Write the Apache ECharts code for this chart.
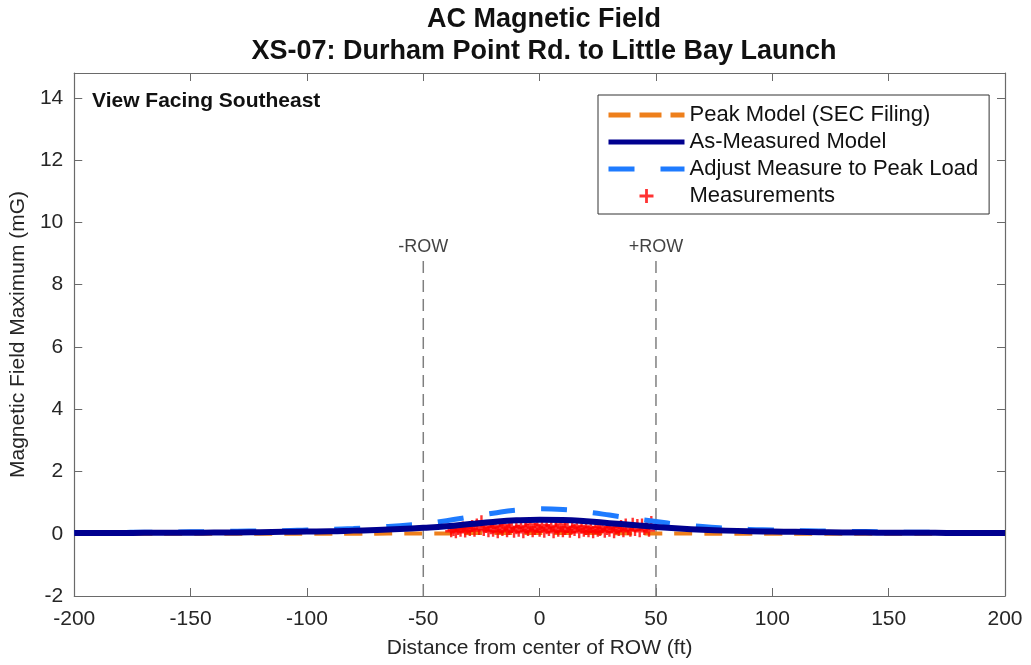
<!DOCTYPE html>
<html><head><meta charset="utf-8">
<script src="https://cdn.jsdelivr.net/npm/echarts@6/dist/echarts.min.js"></script>
<style>html,body{margin:0;padding:0;background:#fff}#c{width:1031px;height:665px}</style>
</head><body><div id="c"></div>
<script>
const titleLines = ['AC Magnetic Field', 'XS-07: Durham Point Rd. to Little Bay Launch'];
const xTicksMin = -200, xTicksMax = 200, xStep = 50;
const yMin = -2, yMax = 14.8, yStep = 2;
const modelX = [-200,-190,-180,-170,-160,-150,-140,-130,-120,-110,-100,-90,-80,-70,-60,-50,-40,-30,-20,-10,0,10,20,30,40,50,60,70,80,90,100,110,120,130,140,150,160,170,180,190,200];
const peakModel = [0.0,0.0,0.0,0.0,0.0,0.0,0.0,0.0,0.0,0.0,0.0,0.0,0.0,0.0,0.01,0.01,0.01,0.02,0.02,0.02,0.02,0.02,0.02,0.02,0.01,0.01,0.01,0.0,0.0,0.0,0.0,0.0,0.0,0.0,0.0,0.0,0.0,0.0,0.0,0.0,0.0];
const asMeasured = [0.02,0.02,0.02,0.03,0.03,0.03,0.04,0.04,0.05,0.06,0.07,0.08,0.10,0.12,0.15,0.19,0.24,0.31,0.38,0.43,0.45,0.44,0.40,0.34,0.28,0.22,0.17,0.13,0.10,0.08,0.07,0.06,0.05,0.04,0.04,0.03,0.03,0.03,0.02,0.02,0.02];
const adjusted = [0.03,0.03,0.04,0.05,0.05,0.06,0.07,0.08,0.09,0.10,0.12,0.14,0.17,0.21,0.26,0.32,0.42,0.54,0.66,0.76,0.80,0.78,0.70,0.60,0.49,0.39,0.30,0.23,0.18,0.14,0.12,0.10,0.09,0.08,0.07,0.06,0.05,0.05,0.04,0.03,0.03];
const measX = [-38,-37,-36,-35,-34,-33,-32,-31,-30,-29,-28,-27,-26,-25,-24,-23,-22,-21,-20,-19,-18,-17,-16,-15,-14,-13,-12,-11,-10,-9,-8,-7,-6,-5,-4,-3,-2,-1,0,1,2,3,4,5,6,7,8,9,10,11,12,13,14,15,16,17,18,19,20,21,22,23,24,25,26,27,28,29,30,31,32,33,34,35,36,37,38,39,40,41,42,43,44,45,46,47,48];
const measY = [0.08,0.12,0.05,0.15,0.10,0.20,0.07,0.18,0.12,0.25,0.10,0.30,0.15,0.40,0.12,0.22,0.08,0.18,0.10,0.25,0.05,0.20,0.12,0.28,0.08,0.15,0.22,0.06,0.18,0.10,0.25,0.05,0.20,0.12,0.30,0.08,0.15,0.22,0.10,0.28,0.06,0.18,0.12,0.25,0.05,0.20,0.10,0.30,0.08,0.15,0.22,0.06,0.18,0.12,0.25,0.05,0.20,0.10,0.15,0.08,0.22,0.05,0.18,0.10,0.12,0.20,0.06,0.15,0.10,0.22,0.05,0.18,0.12,0.25,0.08,0.30,0.15,0.10,0.32,0.12,0.28,0.08,0.30,0.15,0.20,0.10,0.38];
const rowX = [-50, 50];
const rowLabels = ['-ROW', '+ROW'];
const rowTop = 8.9, rowLabelY = 9.2;
const names = ['Peak Model (SEC Filing)', 'As-Measured Model', 'Adjust Measure to Peak Load', 'Measurements'];

const zip = (xs, ys) => xs.map((x, i) => [x, ys[i]]);
const FONT = 'Liberation Sans';
const axisCol = '#6a6a6a';
const txtCol = '#262626';
const plusPath = 'path://M4,0h2v4h4v2h-4v4h-2v-4h-4v-2h4z';
const cOrange = '#EE7F1B', cNavy = '#00008F', cBlue = '#1E7BFF', cRed = '#FF0000';

const chart = echarts.init(document.getElementById('c'));
const rowSeries = rowX.map((x) => ({
  type: 'line', silent: true, symbol: 'none', z: 1,
  data: [[x, yMin], [x, rowTop]],
  lineStyle: { color: '#7f7f7f', width: 1.5, type: [12, 7] }
}));
const rowLabelSeries = {
  type: 'scatter', silent: true, symbolSize: 0, z: 10,
  data: rowX.map((x, i) => ({ value: [x, rowLabelY], label: { formatter: rowLabels[i] } })),
  label: { show: true, position: 'inside', color: '#111', fontFamily: FONT, fontSize: 18 }
};
const axisCommon = {
  axisLine: { show: true, onZero: false, lineStyle: { color: axisCol, width: 1.2 } },
  axisTick: { show: true, inside: true, length: 8, lineStyle: { color: axisCol } },
  splitLine: { show: false }
};
const hidden = { opacity: 0 };
chart.setOption({
  animation: false,
  textStyle: { fontFamily: FONT },
  title: [
    { text: titleLines[0], left: 539, top: 1, textAlign: 'center', textStyle: { fontFamily: FONT, fontWeight: 'bold', fontSize: 27, color: '#111' } },
    { text: titleLines[1], left: 539, top: 33, textAlign: 'center', textStyle: { fontFamily: FONT, fontWeight: 'bold', fontSize: 27, color: '#111' } },
    { text: 'View Facing Southeast', left: 87, top: 86, textStyle: { fontFamily: FONT, fontWeight: 'bold', fontSize: 21, color: '#111' } }
  ],
  grid: { left: 74, right: 26, top: 73, bottom: 69 },
  legend: {
    data: [
      { name: names[0], itemStyle: hidden, lineStyle: { width: 5, type: [22, 9] } },
      { name: names[1], itemStyle: hidden, lineStyle: { width: 5 } },
      { name: names[2], itemStyle: hidden, lineStyle: { width: 5, type: [26, 26] } },
      { name: names[3] }
    ],
    orient: 'vertical', left: 598, top: 95,
    backgroundColor: '#fff', borderColor: '#333', borderWidth: 1,
    padding: [9, 11, 7, 8], itemWidth: 76, itemHeight: 14, itemGap: 5,
    textStyle: { fontFamily: FONT, fontSize: 22, color: '#111' }
  },
  xAxis: [
    Object.assign({ type: 'value', min: xTicksMin, max: xTicksMax, interval: xStep,
      name: 'Distance from center of ROW (ft)', nameLocation: 'middle', nameGap: 42,
      nameTextStyle: { fontFamily: FONT, fontSize: 21, color: txtCol },
      axisLabel: { fontFamily: FONT, fontSize: 21, color: txtCol, margin: 13 } }, axisCommon),
    Object.assign({ type: 'value', min: xTicksMin, max: xTicksMax, interval: xStep, position: 'top',
      axisLabel: { show: false } }, axisCommon)
  ],
  yAxis: [
    Object.assign({ type: 'value', min: yMin, max: yMax, interval: yStep,
      name: 'Magnetic Field Maximum (mG)', nameLocation: 'middle', nameGap: 40,
      nameTextStyle: { fontFamily: FONT, fontSize: 21, color: txtCol },
      axisLabel: { fontFamily: FONT, fontSize: 21, color: txtCol, margin: 11, showMaxLabel: false } }, axisCommon),
    Object.assign({ type: 'value', min: yMin, max: yMax, interval: yStep, position: 'right',
      axisLabel: { show: false } }, axisCommon)
  ],
  series: [
    ...rowSeries,
    rowLabelSeries,
    { name: names[0], type: 'line', symbol: 'none', smooth: true, z: 2,
      data: zip(modelX, peakModel),
      lineStyle: { color: cOrange, width: 4, type: [18, 12] }, itemStyle: { color: cOrange } },
    { name: names[3], type: 'scatter', symbol: plusPath, symbolSize: 12, z: 3,
      data: zip(measX, measY), itemStyle: { color: cRed } },
    { name: names[2], type: 'line', symbol: 'none', smooth: true, z: 4,
      data: zip(modelX, adjusted),
      lineStyle: { color: cBlue, width: 5, type: [26, 26] }, itemStyle: { color: cBlue } },
    { name: names[1], type: 'line', symbol: 'none', smooth: true, z: 5,
      data: zip(modelX, asMeasured),
      lineStyle: { color: cNavy, width: 6 }, itemStyle: { color: cNavy } }
  ]
});
</script></body></html>
